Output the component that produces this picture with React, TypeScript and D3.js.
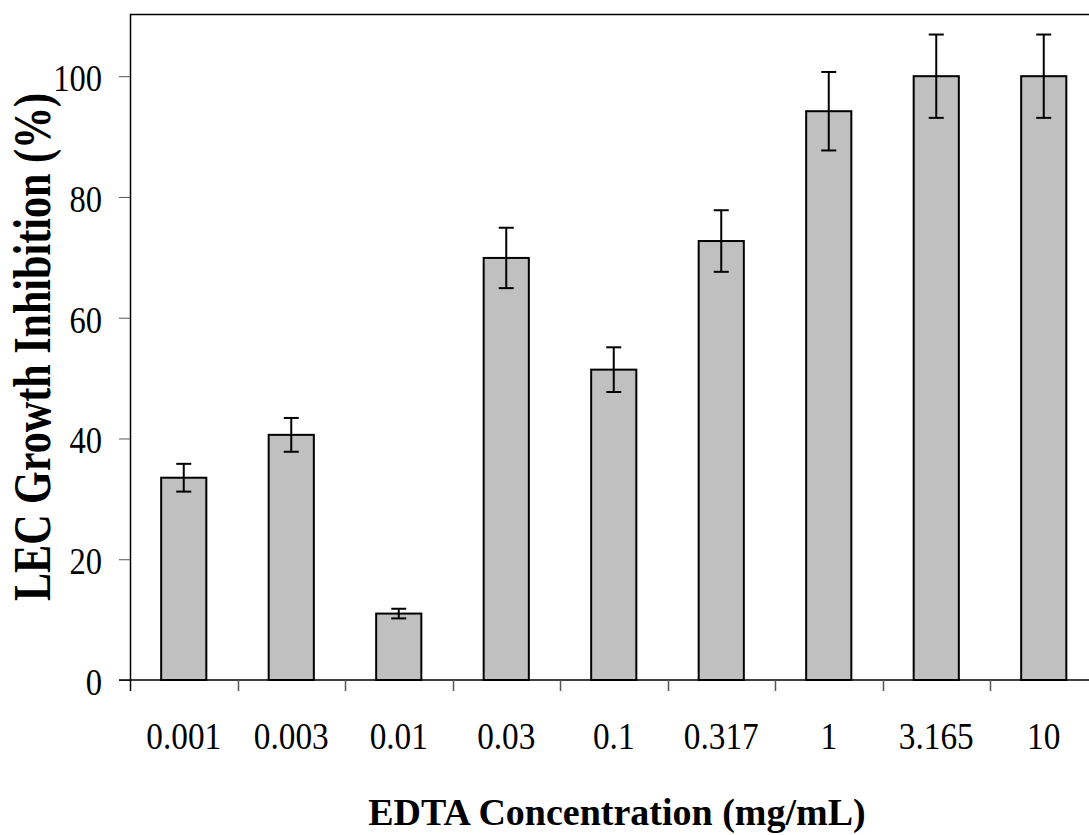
import React, { useEffect, useRef } from 'react';
import * as d3 from 'd3';

// EDTA concentrations (mg/mL) and measured LEC growth inhibition (%)
const concentrations = ['0.001', '0.003', '0.01', '0.03', '0.1', '0.317', '1', '3.165', '10'];
const inhibition = [33.5, 40.6, 11.0, 69.9, 51.4, 72.7, 94.2, 100, 100];
const errors = [2.3, 2.8, 0.8, 5.0, 3.7, 5.1, 6.5, 6.9, 6.9];
const yTicks = [0, 20, 40, 60, 80, 100];

const W = 1089;
const H = 835;

const App = () => {
    const svgRef = useRef<SVGSVGElement>(null);

    useEffect(() => {
        const svg = d3.select(svgRef.current);
        svg.selectAll('*').remove();

        const left = 130, top = 14, bottom = 680, right = 1097.5;

        const x = d3.scaleBand<string>()
            .domain(concentrations)
            .range([left, right])
            .padding(0);

        const y = d3.scaleLinear()
            .domain([0, 110.3])
            .range([bottom, top]);

        const barW = x.bandwidth() * 0.42;
        const serif = '"Liberation Serif", "Times New Roman", serif';

        // frame: top line and left axis
        svg.append('line')
            .attr('x1', left).attr('x2', W)
            .attr('y1', top + 0.5).attr('y2', top + 0.5)
            .attr('stroke', '#000').attr('stroke-width', 1.5);

        // y axis
        const yAxis = svg.append('g')
            .attr('transform', `translate(${left},0)`)
            .call(d3.axisLeft(y).tickValues(yTicks).tickSize(11).tickSizeOuter(0).tickFormat(() => ''));
        yAxis.select('.domain').attr('stroke', '#000').attr('stroke-width', 1.5)
            .attr('d', `M0.5,${top}V${bottom + 11}`);
        yAxis.selectAll('.tick line').attr('stroke', '#555');

        // x axis line + ticks at category boundaries
        svg.append('line')
            .attr('x1', left - 11).attr('x2', W)
            .attr('y1', bottom).attr('y2', bottom)
            .attr('stroke', '#000').attr('stroke-width', 1.5);

        const boundaries = concentrations.map(c => x(c) as number).concat([right]);
        svg.append('g').selectAll('line')
            .data(boundaries.slice(1))
            .join('line')
            .attr('x1', d => Math.round(d) + 0.5).attr('x2', d => Math.round(d) + 0.5)
            .attr('y1', bottom).attr('y2', bottom + 11)
            .attr('stroke', '#555').attr('stroke-width', 1.5);

        // bars
        svg.append('g').selectAll('rect')
            .data(inhibition)
            .join('rect')
            .attr('x', (d, i) => (x(concentrations[i]) as number) + (x.bandwidth() - barW) / 2)
            .attr('width', barW)
            .attr('y', d => y(d))
            .attr('height', d => y(0) - y(d))
            .attr('fill', '#c0c0c0')
            .attr('stroke', '#000')
            .attr('stroke-width', 2);

        // error bars
        const eb = svg.append('g').attr('stroke', '#000').attr('stroke-width', 2);
        inhibition.forEach((v, i) => {
            const cx = (x(concentrations[i]) as number) + x.bandwidth() / 2;
            const hi = y(v + errors[i]);
            const lo = y(v - errors[i]);
            eb.append('line').attr('x1', cx).attr('x2', cx).attr('y1', hi).attr('y2', lo);
            eb.append('line').attr('x1', cx - 7.5).attr('x2', cx + 7.5).attr('y1', hi).attr('y2', hi);
            eb.append('line').attr('x1', cx - 7.5).attr('x2', cx + 7.5).attr('y1', lo).attr('y2', lo);
        });

        // y tick labels
        svg.append('g').selectAll('text')
            .data(yTicks)
            .join('text')
            .attr('transform', d => `translate(102,${y(d) + 15}) scale(0.88,1)`)
            .attr('text-anchor', 'end')
            .style('font-family', serif)
            .style('font-size', '37px')
            .text(d => d);

        // x tick labels
        svg.append('g').selectAll('text')
            .data(concentrations)
            .join('text')
            .attr('transform', d => `translate(${(x(d) as number) + x.bandwidth() / 2},749) scale(0.9,1)`)
            .attr('text-anchor', 'middle')
            .style('font-family', serif)
            .style('font-size', '37px')
            .text(d => d);

        // axis titles
        svg.append('text')
            .attr('transform', `translate(617,825)`)
            .attr('text-anchor', 'middle')
            .style('font-family', serif)
            .style('font-weight', 'bold')
            .style('font-size', '38px')
            .text('EDTA Concentration (mg/mL)');

        svg.append('text')
            .attr('transform', `translate(50,${(top + bottom) / 2}) rotate(-90) scale(0.81,1)`)
            .attr('text-anchor', 'middle')
            .style('font-family', serif)
            .style('font-weight', 'bold')
            .style('font-size', '52px')
            .text('LEC Growth Inhibition (%)');

        // stray mark next to the y title in the source
        svg.append('rect')
            .attr('x', 38).attr('y', 96.5)
            .attr('width', 5).attr('height', 3)
            .attr('fill', '#000');
    }, []);

    return (
        <svg
            ref={svgRef}
            width={W}
            height={H}
            style={{ position: 'absolute', left: 0, top: 0, display: 'block', background: '#fff' }}
        />
    );
};

export default App;
